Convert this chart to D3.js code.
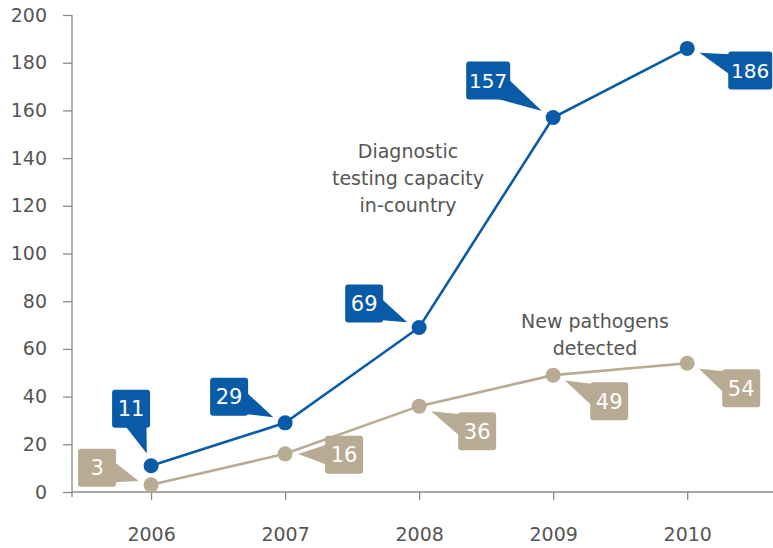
<!DOCTYPE html>
<html>
<head>
<meta charset="utf-8">
<script src="https://cdn.jsdelivr.net/npm/d3@7"></script>
<style>
  body { margin: 0; background: #fff; }
  svg { display: block; font-family: "DejaVu Sans", sans-serif; }
</style>
</head>
<body>
<svg id="chart" width="773" height="548"></svg>
<script>
// data
const years = [2006, 2007, 2008, 2009, 2010];
const testingCapacity = [11, 29, 69, 157, 186];
const newPathogens = [3, 16, 36, 49, 54];
const yTicks = [0, 20, 40, 60, 80, 100, 120, 140, 160, 180, 200];

// callout box offsets (box centre relative to point), layout only
const blueOffsets = [[-20, -57], [-56, -26], [-55, -24], [-65, -37], [63, 22]];
const tanOffsets = [[-54, -17], [59, 1], [58, 25], [56, 26], [54, 25]];

const BLUE = "#0a5ba7";
const TAN = "#b9aa93";
const GREY_TEXT = "#555";
const AXIS = "#8a8a8a";

const svg = d3.select("#chart");

const x = d3.scaleLinear().domain([2005.41, 2010.64]).range([72, 773]);
const y = d3.scaleLinear().domain([0, 200]).range([492, 15]);

// y axis
const yAxis = svg.append("g").attr("transform", "translate(72,0)")
  .call(d3.axisLeft(y).tickValues(yTicks).tickSize(9).tickPadding(16));
yAxis.select(".domain").attr("d", "M0,15V497");

// x axis
const xAxis = svg.append("g").attr("transform", "translate(0,492)")
  .call(d3.axisBottom(x).tickValues(years).tickFormat(d3.format("d")).tickSize(8).tickPadding(28));
xAxis.select(".domain").attr("d", "M72,0H773");

svg.selectAll(".domain, .tick line").attr("stroke", AXIS).attr("stroke-width", 1.3);
svg.selectAll(".tick text").attr("fill", GREY_TEXT).attr("font-size", 19)
  .attr("font-family", "DejaVu Sans, sans-serif");

function drawSeries(values, color, offsets) {
  const pts = values.map((v, i) => [x(years[i]), y(v)]);
  svg.append("path")
    .attr("d", d3.line()(pts))
    .attr("fill", "none").attr("stroke", color).attr("stroke-width", 2.6);

  svg.append("g").selectAll("circle").data(pts).join("circle")
    .attr("cx", d => d[0]).attr("cy", d => d[1]).attr("r", 7.5)
    .attr("fill", color);

  const g = svg.append("g");
  values.forEach((v, i) => {
    const [px, py] = pts[i];
    const [dx, dy] = offsets[i];
    const cx = px + dx, cy = py + dy;
    const label = String(v);
    const w = label.length > 2 ? 44 : 38, h = 38;
    // pointer: wedge from inside the box to a tip near the point
    const len = Math.hypot(dx, dy);
    const ux = -dx / len, uy = -dy / len;
    const tipX = px + ux * -13, tipY = py + uy * -13;
    const bx = cx + ux * 6, by = cy + uy * 6;
    const hw = 14;
    g.append("path")
      .attr("d", `M${bx - uy * hw},${by + ux * hw}L${tipX},${tipY}L${bx + uy * hw},${by - ux * hw}Z`)
      .attr("fill", color);
    g.append("rect")
      .attr("x", cx - w / 2).attr("y", cy - h / 2)
      .attr("width", w).attr("height", h).attr("rx", 3)
      .attr("fill", color);
    g.append("text")
      .attr("x", cx).attr("y", cy + 7.5)
      .attr("text-anchor", "middle")
      .attr("fill", "#fff").attr("font-size", label.length > 2 ? 20 : 21)
      .text(label);
  });
}

drawSeries(newPathogens, TAN, tanOffsets);
drawSeries(testingCapacity, BLUE, blueOffsets);

// series names
const names = [
  { lines: ["Diagnostic", "testing capacity", "in-country"], x: 408, y: 158 },
  { lines: ["New pathogens", "detected"], x: 595, y: 328 }
];
names.forEach(n => {
  const t = svg.append("text").attr("text-anchor", "middle")
    .attr("fill", GREY_TEXT).attr("font-size", 19);
  n.lines.forEach((l, i) => {
    t.append("tspan").attr("x", n.x).attr("y", n.y + i * 27).text(l);
  });
});
</script>
</body>
</html>
